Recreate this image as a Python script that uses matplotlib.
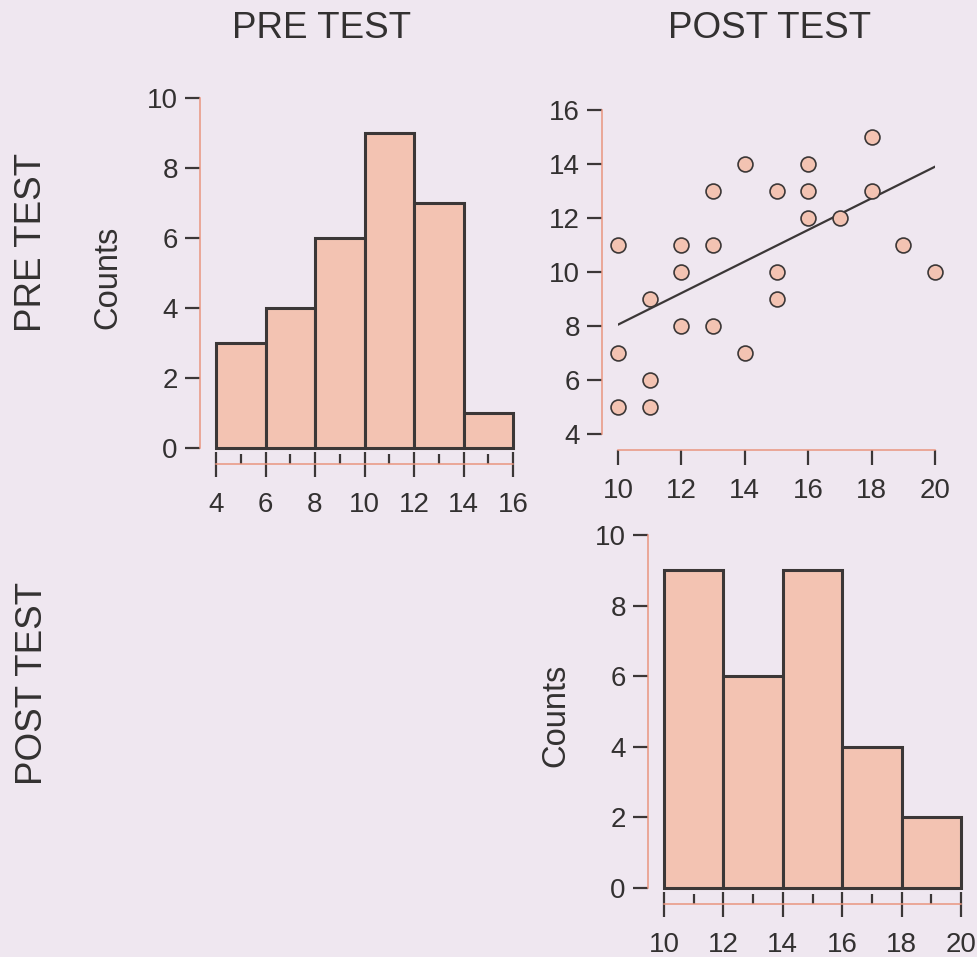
import numpy as np
import matplotlib
matplotlib.use("Agg")
import matplotlib.pyplot as plt
from matplotlib.ticker import MultipleLocator

# data
variables = ["PRE TEST", "POST TEST"]

pre_edges = [4, 6, 8, 10, 12, 14, 16]
pre_counts = [3, 4, 6, 9, 7, 1]

post_edges = [10, 12, 14, 16, 18, 20]
post_counts = [9, 6, 9, 4, 2]

# scatter: x = POST TEST, y = PRE TEST
post_x = [10, 10, 10, 11, 11, 11, 12, 12, 12, 13, 13, 13, 14, 14,
          15, 15, 15, 16, 16, 16, 17, 18, 18, 19, 20]
pre_y = [11, 7, 5, 9, 6, 5, 11, 10, 8, 13, 11, 8, 14, 7,
         13, 10, 9, 14, 13, 12, 12, 15, 13, 11, 10]
fit_intercept = 2.2
fit_slope = 0.585

bg = "#efe7f0"
fill = "#f3c3b2"
edge = "#3b3737"
spine_col = "#e9957f"
txt = "#333131"

plt.rcParams['font.family'] = ['Liberation Sans', 'DejaVu Sans']

W, H = 977, 957
fig = plt.figure(figsize=(W / 100, H / 100), dpi=100, facecolor=bg)


def px_axes(left, top, right, bottom):
    return fig.add_axes([left / W, 1 - bottom / H, (right - left) / W, (bottom - top) / H])


def style(ax, xb, yb):
    ax.set_facecolor("none")
    for s in ["top", "right"]:
        ax.spines[s].set_visible(False)
    for s in ["left", "bottom"]:
        ax.spines[s].set_position(("outward", 11.5))
        ax.spines[s].set_color(spine_col)
        ax.spines[s].set_linewidth(1.1)
    ax.spines["bottom"].set_bounds(*xb)
    ax.spines["left"].set_bounds(*yb)
    ax.tick_params(axis="y", direction="out", length=11, width=1.6, color=edge,
                   labelsize=20, labelcolor=txt, pad=5)


def histo(ax, edges, counts):
    widths = np.diff(edges)
    ax.bar(edges[:-1], counts, width=widths, align="edge", color=fill,
           edgecolor=edge, linewidth=2.2, clip_on=False)
    ax.set_xlim(edges[0], edges[-1])
    ax.set_ylim(0, 10)
    style(ax, (edges[0], edges[-1]), (0, 10))
    ax.xaxis.set_major_locator(MultipleLocator(2))
    ax.xaxis.set_minor_locator(MultipleLocator(1))
    ax.yaxis.set_major_locator(MultipleLocator(2))
    ax.tick_params(axis="x", which="major", direction="inout", length=18, width=1.6,
                   color=edge, labelsize=20, labelcolor=txt, pad=11)
    ax.tick_params(axis="x", which="minor", direction="in", length=7, width=1.6, color=edge)


# pre test histogram
ax1 = px_axes(216, 98, 513, 448)
histo(ax1, pre_edges, pre_counts)

# post test histogram
ax3 = px_axes(664, 535, 961, 888)
histo(ax3, post_edges, post_counts)

# scatter with regression line
ax2 = px_axes(618, 110, 935, 434)
ax2.scatter(post_x, pre_y, s=115, color=fill, edgecolor=edge, linewidth=1.2,
            zorder=3, clip_on=False)
xs = np.array([10, 20])
ax2.plot(xs, fit_intercept + fit_slope * xs, color=edge, linewidth=1.6, zorder=2)
ax2.set_xlim(10, 20)
ax2.set_ylim(4, 16)
style(ax2, (10, 20), (4, 16))
ax2.xaxis.set_major_locator(MultipleLocator(2))
ax2.yaxis.set_major_locator(MultipleLocator(2))
ax2.tick_params(axis="x", direction="out", length=11, width=1.6, color=edge,
                labelsize=20, labelcolor=txt, pad=9)

# labels
fig.text(322 / W, 1 - 28 / H, variables[0], ha="center", va="center", fontsize=26.5, color=txt)
fig.text(770 / W, 1 - 28 / H, variables[1], ha="center", va="center", fontsize=26.5, color=txt)
fig.text(32 / W, 1 - 242 / H, variables[0], ha="center", va="center", fontsize=26.5,
         color=txt, rotation=90)
fig.text(33 / W, 1 - 683 / H, variables[1], ha="center", va="center", fontsize=26.5,
         color=txt, rotation=90)
fig.text(108 / W, 1 - 277 / H, "Counts", ha="center", va="center", fontsize=23.5,
         color=txt, rotation=90)
fig.text(556 / W, 1 - 715 / H, "Counts", ha="center", va="center", fontsize=23.5,
         color=txt, rotation=90)

fig.savefig("out.png", dpi=100, facecolor=bg)
